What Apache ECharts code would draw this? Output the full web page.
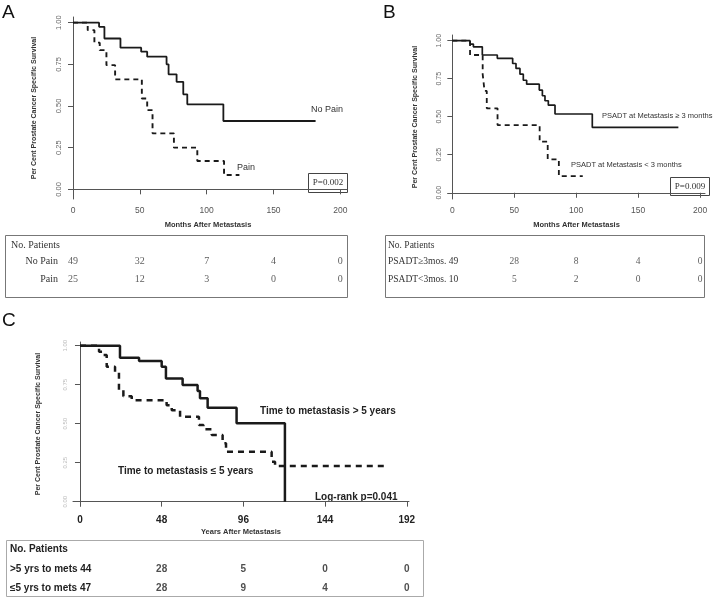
<!DOCTYPE html>
<html>
<head>
<meta charset="utf-8">
<script src="https://cdn.jsdelivr.net/npm/echarts@6/dist/echarts.min.js"></script>
<style>html,body{margin:0;padding:0;background:#fff}#c{width:719px;height:600px}</style>
</head>
<body>
<div id="c"></div>
<script>
// ---------- Panel A data (months, survival) ----------
const noPainT = [0, 19.5, 23.5, 35.5, 51, 55.5, 70, 71.5, 77.5, 82.5, 85.5, 112.5, 181.5];
const noPainS = [1, 0.975, 0.905, 0.85, 0.826, 0.796, 0.75, 0.69, 0.645, 0.57, 0.51, 0.41, 0.41];
const painT = [0, 11, 16, 20, 25, 31.5, 51.5, 55.5, 59.5, 75.5, 93, 113, 124.5];
const painS = [1, 0.955, 0.88, 0.835, 0.745, 0.66, 0.545, 0.475, 0.336, 0.25, 0.17, 0.086, 0.086];
const ticksA = [0, 50, 100, 150, 200];
const riskRowsA = ['No Pain', 'Pain'];
const riskColsA = [0, 50, 100, 150, 200];
const riskNoPain = [49, 32, 7, 4, 0];
const riskPain = [25, 12, 3, 0, 0];

// ---------- Panel B data ----------
const geT = [0, 14.3, 17, 24.2, 36.3, 48.7, 51.4, 54.6, 57.3, 60, 70.2, 72.7, 74.8, 77.5, 82.9, 113, 182.5];
const geS = [1, 0.978, 0.96, 0.906, 0.884, 0.85, 0.818, 0.78, 0.74, 0.714, 0.675, 0.638, 0.605, 0.576, 0.518, 0.43, 0.43];
const ltT = [0, 14.3, 24.5, 26, 27.8, 36.5, 70.5, 77, 86, 105.3];
const ltS = [1, 0.906, 0.78, 0.67, 0.555, 0.445, 0.336, 0.22, 0.11, 0.11];
const ticksB = [0, 50, 100, 150, 200];
const riskRowNamesB = ['PSADT≥3mos.', 'PSADT<3mos.'];
const riskStartB = [49, 10];
const riskColsB = [50, 100, 150, 200];
const riskGeB = [28, 8, 4, 0];
const riskLtB = [5, 2, 0, 0];

// ---------- Panel C data ----------
const gtT = [0, 23.5, 34.7, 48, 50.5, 60.3, 69.1, 70.5, 75, 92, 120.4];
const gtS = [1, 0.923, 0.902, 0.865, 0.79, 0.748, 0.71, 0.663, 0.603, 0.503, 0];
const leT = [0, 11.2, 13.3, 15.7, 20.6, 22.9, 25.5, 30.4, 50.9, 53.9, 58.8, 69.9, 72.5, 77.4, 83.8, 85.8, 112.6, 114.6, 179.2];
const leS = [1, 0.962, 0.94, 0.865, 0.827, 0.716, 0.676, 0.651, 0.619, 0.587, 0.545, 0.492, 0.464, 0.428, 0.374, 0.32, 0.256, 0.229, 0.229];
const ticksC = [0, 48, 96, 144, 192];
const riskRowNamesC = ['>5 yrs to mets', '≤5 yrs to mets'];
const riskStartC = [44, 47];
const riskColsC = [48, 96, 144, 192];
const riskGtC = [28, 5, 0, 0];
const riskLeC = [28, 9, 4, 0];

const survTicks = [0, 0.25, 0.5, 0.75, 1];

const pairs = (t, s) => t.map((x, i) => [x, s[i]]);
const riskData = (cols, rows) => {
  const out = [];
  rows.forEach((r, ri) => cols.forEach((c, ci) => out.push([c, ri, r[ci]])));
  return out;
};

const SANS = 'Liberation Sans, Arial, sans-serif';
const SERIF = 'Liberation Serif, Times New Roman, serif';
const LINE = '#1a1a1a';
const AX = '#555';

function plotX(gi, min, max, ticks, name, lblStyle, nameSize) {
  return {
    gridIndex: gi, type: 'value', min: min, max: max,
    axisLine: {show: true, lineStyle: {color: AX, width: 1}},
    axisTick: {show: true, length: 5, customValues: ticks, lineStyle: {color: AX}},
    axisLabel: Object.assign({customValues: ticks, margin: 7}, lblStyle),
    splitLine: {show: false},
    name: name, nameLocation: 'middle', nameGap: 22,
    nameTextStyle: {fontFamily: SANS, fontWeight: 'bold', fontSize: nameSize, color: '#333'}
  };
}
function plotY(gi, min, max, lblStyle, nameGap) {
  return {
    gridIndex: gi, type: 'value', min: min, max: max,
    axisLine: {show: true, lineStyle: {color: AX, width: 1}},
    axisTick: {show: true, length: 5, customValues: survTicks, lineStyle: {color: AX}},
    axisLabel: Object.assign({customValues: survTicks, rotate: 90, formatter: v => v.toFixed(2)}, lblStyle),
    splitLine: {show: false},
    name: 'Per Cent Prostate Cancer Specific Survival', nameLocation: 'middle', nameGap: nameGap,
    nameTextStyle: {fontFamily: SANS, fontWeight: 'bold', fontSize: 7, color: '#333'}
  };
}
function tableX(gi, min, max) {
  return {gridIndex: gi, type: 'value', min: min, max: max, show: false};
}
function tableY(gi, rows, lbl) {
  return {
    gridIndex: gi, type: 'category', data: rows, inverse: true,
    axisLine: {show: false}, axisTick: {show: false}, splitLine: {show: false},
    axisLabel: lbl
  };
}
function km(xi, data, dashed, width, dash) {
  return {
    type: 'line', xAxisIndex: xi, yAxisIndex: xi, data: data, step: 'end',
    showSymbol: false, symbol: 'none', silent: true,
    lineStyle: {color: LINE, width: width, type: dashed ? dash : 'solid'}
  };
}
function risk(xi, data, font) {
  return {
    type: 'scatter', xAxisIndex: xi, yAxisIndex: xi, data: data, symbolSize: 1,
    itemStyle: {color: 'rgba(0,0,0,0)'}, silent: true,
    label: Object.assign({show: true, position: 'inside', formatter: p => String(p.value[2])}, font)
  };
}

const option = {
  animation: false,
  backgroundColor: '#fff',
  grid: [
    {left: 69, top: 17, width: 278, height: 182},   // A plot
    {left: 69, top: 253, width: 278, height: 35},   // A table
    {left: 448, top: 35, width: 257, height: 164},  // B plot
    {left: 448, top: 253, width: 257, height: 35},  // B table
    {left: 73, top: 342, width: 336, height: 164},  // C plot
    {left: 73, top: 560, width: 336, height: 38}    // C table
  ],
  xAxis: [
    plotX(0, -3, 205, ticksA, 'Months After Metastasis', {fontFamily: SANS, fontSize: 8.5, color: '#555'}, 7.5),
    tableX(1, -3, 205),
    plotX(2, -3.5, 204, ticksB, 'Months After Metastasis', {fontFamily: SANS, fontSize: 8.5, color: '#555'}, 7.5),
    tableX(3, -3.5, 204),
    plotX(4, -4.1, 193.3, ticksC, 'Years After Metastasis', {fontFamily: SANS, fontSize: 10, fontWeight: 'bold', color: '#222', margin: 9}, 7.5),
    tableX(5, -4.1, 193.3)
  ],
  yAxis: [
    plotY(0, -0.058, 1.034, {fontFamily: SANS, fontSize: 7.5, color: '#666', margin: 6}, 31),
    tableY(1, riskRowsA, {fontFamily: SERIF, fontSize: 10, color: '#333', margin: 11}),
    plotY(2, -0.041, 1.0375, {fontFamily: SANS, fontSize: 7, color: '#666', margin: 5}, 29),
    tableY(3, riskRowNamesB.map((n, i) => n + ' ' + riskStartB[i]), {fontFamily: SERIF, fontSize: 9.5, color: '#333', margin: 60, align: 'left'}),
    plotY(4, -0.028, 1.024, {fontFamily: SANS, fontSize: 6, color: '#bbb', margin: 5}, 31),
    tableY(5, riskRowNamesC.map((n, i) => n + ' ' + riskStartC[i]), {fontFamily: SANS, fontSize: 10, fontWeight: 'bold', color: '#222', margin: 63, align: 'left'})
  ],
  series: [
    km(0, pairs(noPainT, noPainS), false, 1.8),
    km(0, pairs(painT, painS), true, 1.9, [5, 4]),
    risk(1, riskData(riskColsA, [riskNoPain, riskPain]), {fontFamily: SERIF, fontSize: 10, color: '#333'}),
    km(2, pairs(geT, geS), false, 1.7),
    km(2, pairs(ltT, ltS), true, 1.8, [5, 4]),
    risk(3, riskData(riskColsB, [riskGeB, riskLtB]), {fontFamily: SERIF, fontSize: 9.5, color: '#333'}),
    km(4, pairs(gtT, gtS), false, 2.5),
    km(4, pairs(leT, leS), true, 2.5, [6, 5]),
    risk(5, riskData(riskColsC, [riskGtC, riskLeC]), {fontFamily: SANS, fontSize: 10, fontWeight: 'bold', color: '#222'})
  ],
  graphic: [
    // panel letters
    {type: 'text', x: 2, y: 3, style: {text: 'A', fontFamily: SANS, fontSize: 19, fill: '#111'}},
    {type: 'text', x: 383, y: 3, style: {text: 'B', fontFamily: SANS, fontSize: 19, fill: '#111'}},
    {type: 'text', x: 2, y: 311, style: {text: 'C', fontFamily: SANS, fontSize: 19, fill: '#111'}},
    // panel A annotations
    {type: 'text', x: 311, y: 110, style: {text: 'No Pain', fontFamily: SANS, fontSize: 9, fill: '#333', verticalAlign: 'middle'}},
    {type: 'text', x: 237, y: 168, style: {text: 'Pain', fontFamily: SANS, fontSize: 9, fill: '#333', verticalAlign: 'middle'}},
    {type: 'rect', shape: {x: 308.5, y: 173.5, width: 39, height: 19}, style: {fill: '#fff', stroke: '#444', lineWidth: 1}},
    {type: 'text', x: 328, y: 183, style: {text: 'P=0.002', fontFamily: SERIF, fontSize: 9, fill: '#333', align: 'center', verticalAlign: 'middle'}},
    // panel A table
    {type: 'rect', shape: {x: 5.5, y: 235.5, width: 342, height: 62}, style: {fill: 'none', stroke: '#777', lineWidth: 1}},
    {type: 'text', x: 11, y: 245, style: {text: 'No. Patients', fontFamily: SERIF, fontSize: 10, fill: '#333', verticalAlign: 'middle'}},
    // panel B annotations
    {type: 'text', x: 602, y: 116, style: {text: 'PSADT at Metastasis ≥ 3 months', fontFamily: SANS, fontSize: 7.5, fill: '#333', verticalAlign: 'middle'}},
    {type: 'text', x: 571, y: 165, style: {text: 'PSADT at Metastasis < 3 months', fontFamily: SANS, fontSize: 7.5, fill: '#333', verticalAlign: 'middle'}},
    {type: 'rect', shape: {x: 670.5, y: 177.5, width: 39, height: 18}, style: {fill: '#fff', stroke: '#444', lineWidth: 1}},
    {type: 'text', x: 690, y: 186.5, style: {text: 'P=0.009', fontFamily: SERIF, fontSize: 9, fill: '#333', align: 'center', verticalAlign: 'middle'}},
    // panel B table
    {type: 'rect', shape: {x: 385.5, y: 235.5, width: 319, height: 62}, style: {fill: 'none', stroke: '#777', lineWidth: 1}},
    {type: 'text', x: 388, y: 245, style: {text: 'No. Patients', fontFamily: SERIF, fontSize: 9.5, fill: '#333', verticalAlign: 'middle'}},
    // panel C annotations
    {type: 'text', x: 260, y: 411, style: {text: 'Time to metastasis > 5 years', fontFamily: SANS, fontSize: 10, fontWeight: 'bold', fill: '#222', verticalAlign: 'middle'}},
    {type: 'text', x: 118, y: 471, style: {text: 'Time to metastasis ≤ 5 years', fontFamily: SANS, fontSize: 10, fontWeight: 'bold', fill: '#222', verticalAlign: 'middle'}},
    {type: 'text', x: 315, y: 497, style: {text: 'Log-rank p=0.041', fontFamily: SANS, fontSize: 10, fontWeight: 'bold', fill: '#222', verticalAlign: 'middle'}},
    // panel C table
    {type: 'rect', shape: {x: 6.5, y: 540.5, width: 417, height: 56}, style: {fill: 'none', stroke: '#aaa', lineWidth: 1}},
    {type: 'text', x: 10, y: 549, style: {text: 'No. Patients', fontFamily: SANS, fontSize: 10, fontWeight: 'bold', fill: '#222', verticalAlign: 'middle'}}
  ]
};

const chart = echarts.init(document.getElementById('c'), null, {renderer: 'canvas'});
chart.setOption(option);
</script>
</body>
</html>
